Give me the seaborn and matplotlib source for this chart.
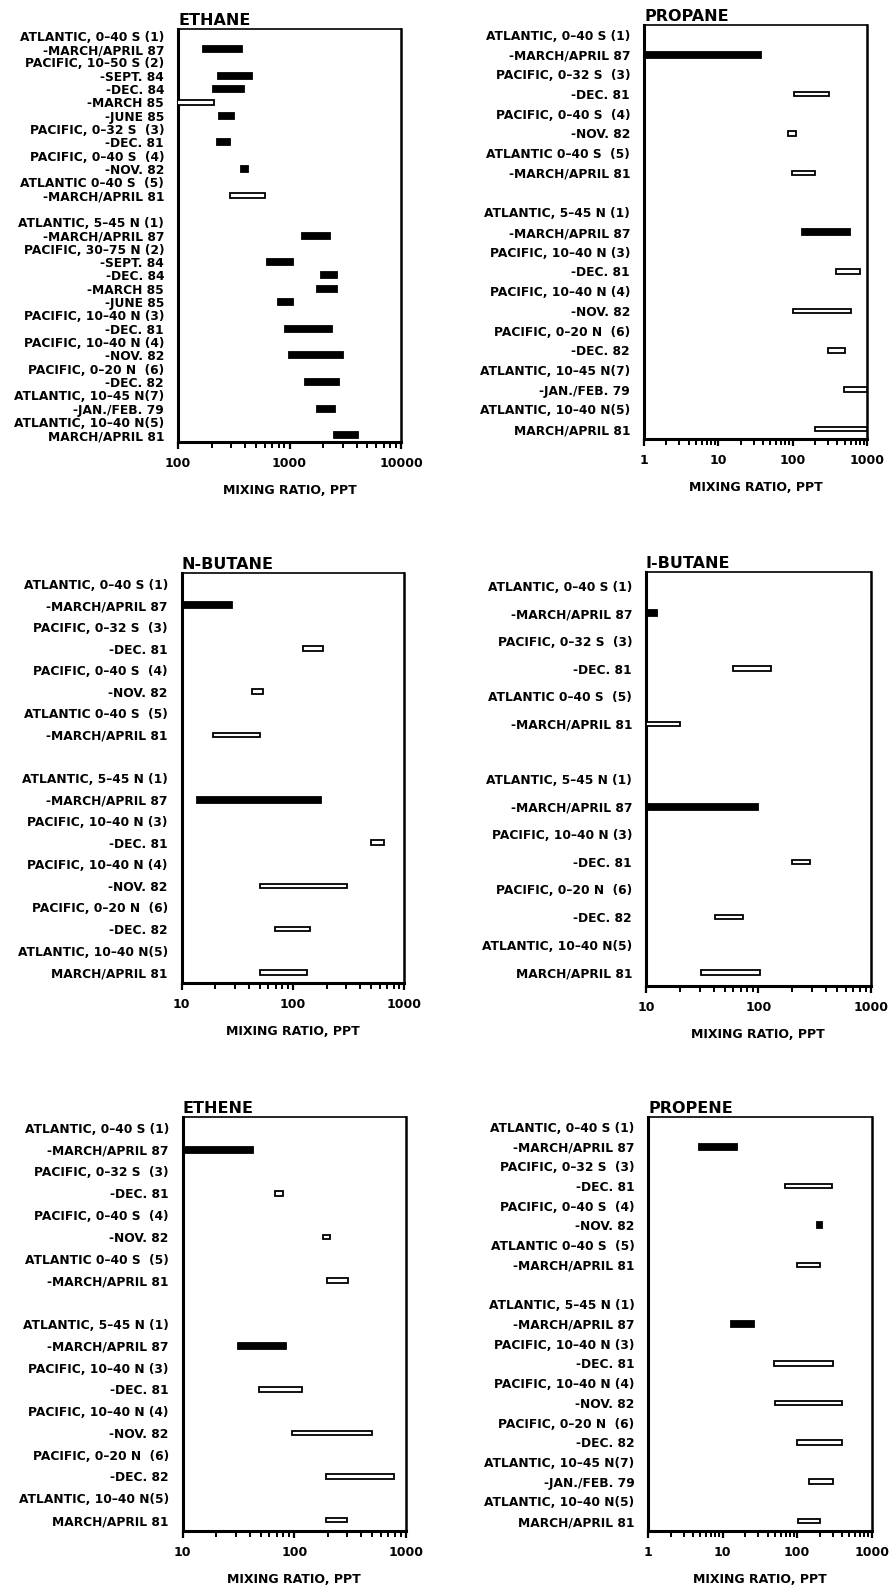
import numpy as np
import seaborn as sns
import matplotlib
matplotlib.use('Agg')
import matplotlib.pyplot as plt
from matplotlib.ticker import LogLocator, FuncFormatter, NullFormatter

# Row labels (empty string = blank separator row between hemispheres)
ethane_labels = ['ATLANTIC, 0–40 S (1)', '-MARCH/APRIL 87', 'PACIFIC, 10–50 S (2)', '-SEPT. 84',
                 '-DEC. 84', '-MARCH 85', '-JUNE 85', 'PACIFIC, 0–32 S  (3)', '-DEC. 81',
                 'PACIFIC, 0–40 S  (4)', '-NOV. 82', 'ATLANTIC 0–40 S  (5)', '-MARCH/APRIL 81', '',
                 'ATLANTIC, 5–45 N (1)', '-MARCH/APRIL 87', 'PACIFIC, 30–75 N (2)', '-SEPT. 84',
                 '-DEC. 84', '-MARCH 85', '-JUNE 85', 'PACIFIC, 10–40 N (3)', '-DEC. 81',
                 'PACIFIC, 10–40 N (4)', '-NOV. 82', 'PACIFIC, 0–20 N  (6)', '-DEC. 82',
                 'ATLANTIC, 10–45 N(7)', '-JAN./FEB. 79', 'ATLANTIC, 10–40 N(5)', 'MARCH/APRIL 81']
ethane_lo = [None, 168, None, 229, 206, 90, 233, None, 224, None, 367, None, 293, None,
             None, 1295, None, 631, 1900, 1760, 794, None, 910, None, 980, None, 1380, None, 1760, None, 2500]
ethane_hi = [None, 375, None, 461, 391, 210, 318, None, 293, None, 427, None, 603, None,
             None, 2306, None, 1070, 2680, 2650, 1070, None, 2400, None, 3000, None, 2780, None, 2560, None, 4150]
ethane_solid = [0, 1, 0, 1, 1, 0, 1, 0, 1, 0, 1, 0, 0, 0,
                0, 1, 0, 1, 1, 1, 1, 0, 1, 0, 1, 0, 1, 0, 1, 0, 1]

propane_labels = ['ATLANTIC, 0–40 S (1)', '-MARCH/APRIL 87', 'PACIFIC, 0–32 S  (3)', '-DEC. 81',
                  'PACIFIC, 0–40 S  (4)', '-NOV. 82', 'ATLANTIC 0–40 S  (5)', '-MARCH/APRIL 81', '',
                  'ATLANTIC, 5–45 N (1)', '-MARCH/APRIL 87', 'PACIFIC, 10–40 N (3)', '-DEC. 81',
                  'PACIFIC, 10–40 N (4)', '-NOV. 82', 'PACIFIC, 0–20 N  (6)', '-DEC. 82',
                  'ATLANTIC, 10–45 N(7)', '-JAN./FEB. 79', 'ATLANTIC, 10–40 N(5)', 'MARCH/APRIL 81']
propane_lo = [None, 1, None, 105, None, 87, None, 97, None,
              None, 135, None, 380, None, 100, None, 297, None, 497, None, 200]
propane_hi = [None, 37, None, 312, None, 111, None, 200, None,
              None, 590, None, 810, None, 605, None, 507, None, 1000, None, 1000]
propane_solid = [0, 1, 0, 0, 0, 0, 0, 0, 0, 0, 1, 0, 0, 0, 0, 0, 0, 0, 0, 0, 0]

nbutane_labels = ['ATLANTIC, 0–40 S (1)', '-MARCH/APRIL 87', 'PACIFIC, 0–32 S  (3)', '-DEC. 81',
                  'PACIFIC, 0–40 S  (4)', '-NOV. 82', 'ATLANTIC 0–40 S  (5)', '-MARCH/APRIL 81', '',
                  'ATLANTIC, 5–45 N (1)', '-MARCH/APRIL 87', 'PACIFIC, 10–40 N (3)', '-DEC. 81',
                  'PACIFIC, 10–40 N (4)', '-NOV. 82', 'PACIFIC, 0–20 N  (6)', '-DEC. 82',
                  'ATLANTIC, 10–40 N(5)', 'MARCH/APRIL 81']
nbutane_lo = [None, 10, None, 124, None, 43, None, 19, None,
              None, 13.6, None, 502, None, 50, None, 69, None, 50]
nbutane_hi = [None, 28, None, 187, None, 54, None, 50, None,
              None, 177, None, 661, None, 307, None, 142, None, 133]
nbutane_solid = [0, 1, 0, 0, 0, 0, 0, 0, 0, 0, 1, 0, 0, 0, 0, 0, 0, 0, 0]

ibutane_labels = ['ATLANTIC, 0–40 S (1)', '-MARCH/APRIL 87', 'PACIFIC, 0–32 S  (3)', '-DEC. 81',
                  'ATLANTIC 0–40 S  (5)', '-MARCH/APRIL 81', '',
                  'ATLANTIC, 5–45 N (1)', '-MARCH/APRIL 87', 'PACIFIC, 10–40 N (3)', '-DEC. 81',
                  'PACIFIC, 0–20 N  (6)', '-DEC. 82', 'ATLANTIC, 10–40 N(5)', 'MARCH/APRIL 81']
ibutane_lo = [None, 10, None, 59, None, 10, None, None, 10, None, 198, None, 41, None, 31]
ibutane_hi = [None, 12.5, None, 130, None, 20, None, None, 99, None, 288, None, 73, None, 103]
ibutane_solid = [0, 1, 0, 0, 0, 0, 0, 0, 1, 0, 0, 0, 0, 0, 0]

ethene_labels = list(nbutane_labels)
ethene_lo = [None, 10, None, 67, None, 182, None, 196, None,
             None, 31, None, 48, None, 96, None, 191, None, 193]
ethene_hi = [None, 43, None, 80, None, 209, None, 302, None,
             None, 84, None, 118, None, 502, None, 791, None, 296]
ethene_solid = [0, 1, 0, 0, 0, 0, 0, 0, 0, 0, 1, 0, 0, 0, 0, 0, 0, 0, 0]

propene_labels = list(propane_labels)
propene_lo = [None, 4.8, None, 69, None, 186, None, 99, None,
              None, 13, None, 49, None, 50, None, 99, None, 146, None, 102]
propene_hi = [None, 15.4, None, 292, None, 214, None, 203, None,
              None, 26, None, 300, None, 398, None, 398, None, 300, None, 203]
propene_solid = [0, 1, 0, 0, 0, 1, 0, 0, 0, 0, 1, 0, 0, 0, 0, 0, 0, 0, 0, 0, 0]

panels = [
    ('ETHANE', ethane_labels, ethane_lo, ethane_hi, ethane_solid, (100, 10000), [0.200, 0.7213, 0.2506, 0.2604]),
    ('PROPANE', propane_labels, propane_lo, propane_hi, propane_solid, (1, 1000), [0.7236, 0.7232, 0.2506, 0.2610]),
    ('N-BUTANE', nbutane_labels, nbutane_lo, nbutane_hi, nbutane_solid, (10, 1000), [0.2042, 0.3802, 0.2501, 0.2585]),
    ('I-BUTANE', ibutane_labels, ibutane_lo, ibutane_hi, ibutane_solid, (10, 1000), [0.7258, 0.3783, 0.2525, 0.2610]),
    ('ETHENE', ethene_labels, ethene_lo, ethene_hi, ethene_solid, (10, 1000), [0.2053, 0.0347, 0.2506, 0.2610]),
    ('PROPENE', propene_labels, propene_lo, propene_hi, propene_solid, (1, 1000), [0.7284, 0.0347, 0.2509, 0.2610]),
]

sns.set_theme(style='ticks')
plt.rcParams['font.family'] = ['DejaVu Sans']
plt.rcParams['font.weight'] = 'bold'
plt.rcParams['text.color'] = 'black'
plt.rcParams['axes.labelcolor'] = 'black'
plt.rcParams['xtick.color'] = 'black'
plt.rcParams['ytick.color'] = 'black'
plt.rcParams['xtick.labelcolor'] = 'black'
plt.rcParams['ytick.labelcolor'] = 'black'

fig = plt.figure(figsize=(8.9, 15.86), dpi=100)
fig.patch.set_facecolor('white')

for title, labels, lo, hi, solid, xlim, rect in panels:
    ax = fig.add_axes(rect)
    ax.set_facecolor('white')
    n = len(labels)
    row_px = rect[3] * 1586 / n
    for i in range(n):
        if lo[i] is None:
            continue
        h = (6.0 if solid[i] else 4.6) / row_px
        ax.barh(i, hi[i] - lo[i], left=lo[i], height=h,
                color='black' if solid[i] else 'white',
                edgecolor='black', linewidth=1.3, zorder=3)
    ax.set_xscale('log')
    ax.set_xlim(*xlim)
    ax.set_ylim(n - 0.5, -0.5)
    ax.set_yticks(range(n))
    ax.set_yticklabels(labels, fontsize=8.8, fontweight='bold', color='black')
    ax.tick_params(axis='y', length=0, pad=10)
    ax.xaxis.set_major_locator(LogLocator(base=10))
    ax.xaxis.set_minor_locator(LogLocator(base=10, subs=range(2, 10)))
    ax.xaxis.set_major_formatter(FuncFormatter(lambda v, p: f'{v:g}'))
    ax.xaxis.set_minor_formatter(NullFormatter())
    ax.tick_params(axis='x', which='major', direction='out', length=5, width=1.6,
                   labelsize=9, pad=6, color='black', labelcolor='black')
    ax.tick_params(axis='x', which='minor', direction='out', length=4, width=1.4, color='black')
    for lab in ax.get_xticklabels():
        lab.set_fontweight('bold')
    ax.set_xlabel('MIXING RATIO, PPT', fontsize=9, fontweight='bold', labelpad=10, color='black')
    ax.set_title(title, loc='left', fontsize=11.5, fontweight='heavy', pad=3, color='black')
    ax.grid(False)
    for side, lw in [('left', 2.2), ('bottom', 2.2), ('top', 1.2), ('right', 1.8)]:
        ax.spines[side].set_visible(True)
        ax.spines[side].set_linewidth(lw)
        ax.spines[side].set_color('black')

fig.savefig('out.png', dpi=100, facecolor='white')
